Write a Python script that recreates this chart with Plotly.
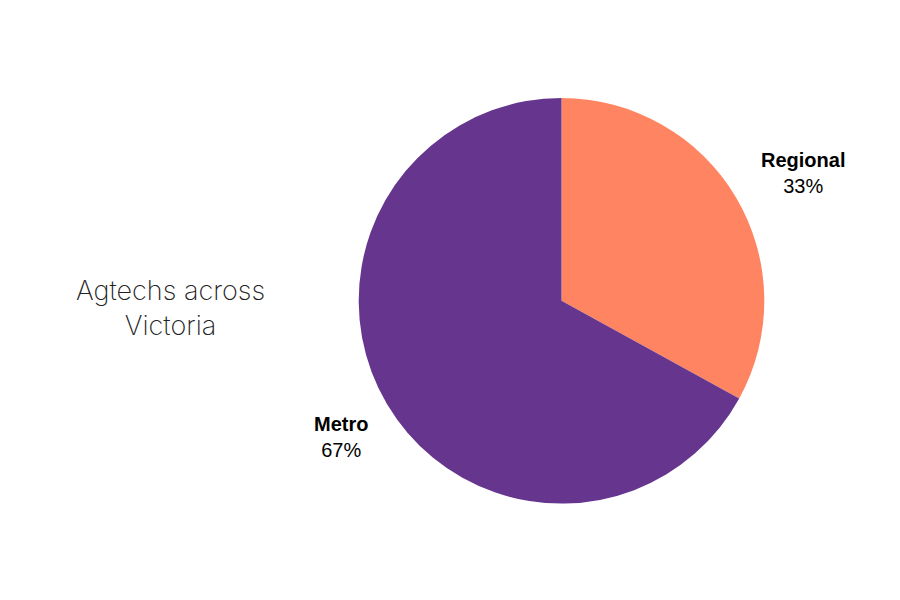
import plotly.graph_objects as go

labels = ["Regional", "Metro"]
values = [33, 67]
colors = ["#FF8461", "#66368F"]
# where each outside label sits (paper coords)
label_x = [0.883, 0.37]
label_y = [0.725, 0.285]

fig = go.Figure(data=[go.Pie(labels=labels, values=values, sort=False,
                             direction="clockwise", rotation=0,
                             textinfo="none", hoverinfo="label+percent",
                             marker=dict(colors=colors, line=dict(width=0)),
                             domain=dict(x=[0.389, 0.841], y=[0.174, 0.85]))])

total = sum(values)
for lab, val, x, y in zip(labels, values, label_x, label_y):
    fig.add_annotation(x=x, y=y, xref="paper", yref="paper", showarrow=False,
                       xanchor="center", yanchor="middle",
                       text="<b>" + lab + "</b><br>" + str(round(100 * val / total)) + "%",
                       font=dict(family="Liberation Sans", size=20, color="black"),
                       align="center")

fig.add_annotation(x=0.18, y=0.5, xref="paper", yref="paper", showarrow=False,
                   xanchor="center", yanchor="middle",
                   text="Agtechs across<br>Victoria", align="center",
                   font=dict(family="Inter", size=27, color="#222", weight=200))

fig.update_layout(width=900, height=600, showlegend=False,
                  margin=dict(l=0, r=0, t=0, b=0),
                  paper_bgcolor="white", plot_bgcolor="white")
fig.write_html("out.html")
